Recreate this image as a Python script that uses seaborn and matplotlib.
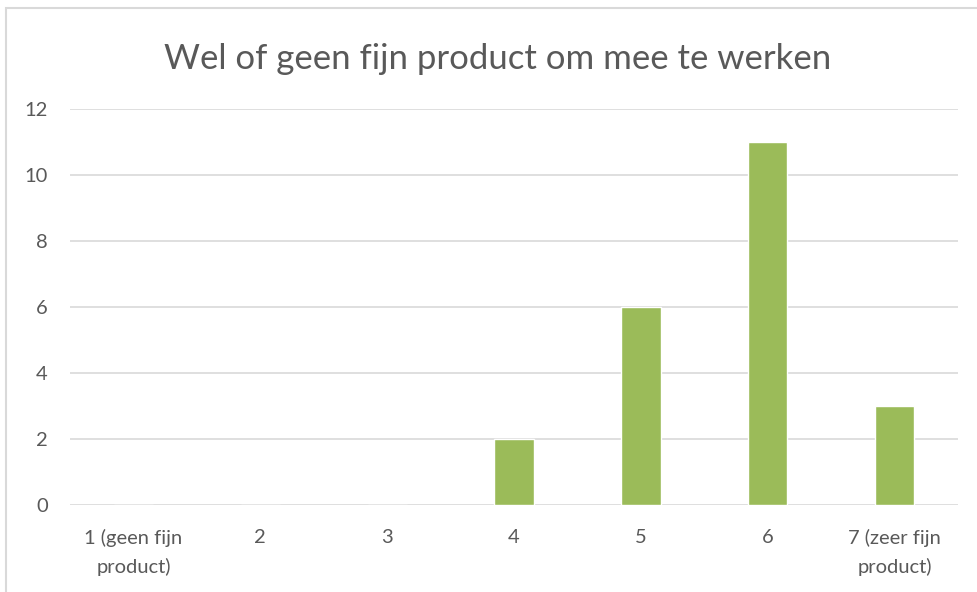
import pandas as pd
import matplotlib.pyplot as plt
import seaborn as sns
from matplotlib.patches import Rectangle

# answers on the 1..7 scale and how many people picked each one
categories = ['1 (geen fijn\nproduct)', '2', '3', '4', '5', '6', '7 (zeer fijn\nproduct)']
counts = [0, 0, 0, 2, 6, 11, 3]
y_ticks = [0, 2, 4, 6, 8, 10, 12]

df = pd.DataFrame({'antwoord': categories, 'aantal': counts})

sns.set_style('white')
plt.rcParams['font.family'] = ['Lato', 'DejaVu Sans']

fig = plt.figure(figsize=(9.78, 5.92), dpi=100)
ax = fig.add_axes([0.0716, 0.147, 0.908, 0.669])

sns.barplot(data=df, x='antwoord', y='aantal', color='#9BBB59', width=0.31,
            saturation=1, ax=ax)

ax.set_ylim(0, 12)
ax.set_yticks(y_ticks)
ax.yaxis.grid(True, color='#D9D9D9', linewidth=1.2)
ax.set_axisbelow(True)
for s in ax.spines.values():
    s.set_visible(False)
ax.set_xlabel('')
ax.set_ylabel('')
ax.tick_params(axis='both', length=0, labelsize=14.5, labelcolor='#595959')
ax.tick_params(axis='y', pad=16)
ax.tick_params(axis='x', pad=17)
for lbl in ax.get_xticklabels():
    lbl.set_linespacing(1.75)

fig.text(0.509, 0.9, 'Wel of geen fijn product om mee te werken',
         ha='center', va='center', fontsize=25, color='#595959')

# light chart frame like the Excel chart area
fig.patches.append(Rectangle((0.006, -0.1), 1.1, 1.086, transform=fig.transFigure,
                             fill=False, edgecolor='#D9D9D9', linewidth=1.5))

fig.savefig('out.png', dpi=100)
